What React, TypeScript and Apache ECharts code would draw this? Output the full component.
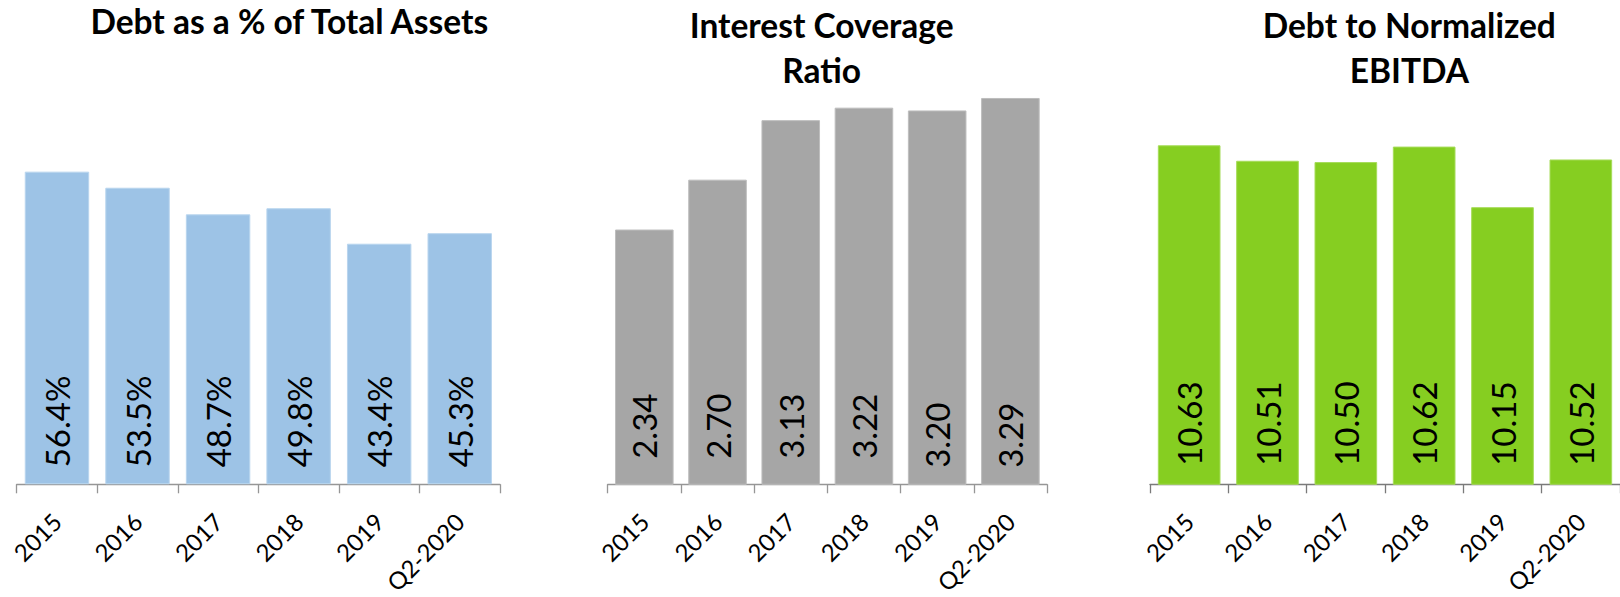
import React, { useEffect, useRef } from "react";
import * as echarts from "echarts";

const categories = ["2015", "2016", "2017", "2018", "2019", "Q2-2020"];
const debtPctAssets = [56.4, 53.5, 48.7, 49.8, 43.4, 45.3];
const interestCoverage = [2.34, 2.7, 3.13, 3.22, 3.2, 3.29];
const debtToEbitda = [10.63, 10.51, 10.5, 10.62, 10.15, 10.52];
const titles = ["Debt as a % of Total Assets", "Interest Coverage\nRatio", "Debt to Normalized\nEBITDA"];
const coverageLabelLift = [26, 26, 26, 26, 17, 17];

const FONT = "Lato, 'Noto Sans', sans-serif";

export default function App() {
  const ref = useRef<HTMLDivElement>(null);
  useEffect(() => {
    if (!ref.current) return;
    const chart = echarts.init(ref.current, undefined, { renderer: "svg" });

    const grids = [
      { left: 16.7, top: 151.7, width: 483.3, height: 332.6 },
      { left: 607.7, top: 68.9, width: 439.3, height: 425.4 },
      { left: 1150, top: 97.6, width: 474, height: 398 },
    ];
    const yRanges = [
      { min: 0, max: 60 },
      { min: 0.5, max: 3.5 },
      { min: 8, max: 11 },
    ];
    const axisColors = ["#969696", "#969696", "#7a7a7a"];
    const barColors = ["#9dc3e6", "#a6a6a6", "#86ce21"];
    const barBorders = ["#b9d5ee", "#bdbdbd", "#a6dc5a"];
    const seriesData = [debtPctAssets, interestCoverage, debtToEbitda];
    const labelFmt = [
      (v: number) => v.toFixed(1) + "%",
      (v: number) => v.toFixed(2),
      (v: number) => v.toFixed(2),
    ];
    const labelLift = [17, 17, 19];

    const baseLabel = (i: number) => ({
      show: true,
      position: "insideBottom",
      rotate: 90,
      align: "left",
      verticalAlign: "middle",
      distance: labelLift[i],
      color: "#000",
      fontFamily: FONT,
      fontSize: 33,
      formatter: (p: any) => labelFmt[i](p.value),
    });

    const option: any = {
      animation: false,
      grid: grids.map((g) => ({ ...g, containLabel: false })),
      xAxis: grids.map((_, i) => ({
        type: "category",
        gridIndex: i,
        data: categories,
        axisLine: { show: true, lineStyle: { color: axisColors[i], width: 1.3 } },
        axisTick: { show: true, length: 9, lineStyle: { color: axisColors[i], width: 1.3 } },
        axisLabel: {
          rotate: 45,
          margin: 33,
          interval: 0,
          color: "#000",
          fontFamily: FONT,
          fontSize: 24,
        },
        splitLine: { show: false },
      })),
      yAxis: grids.map((_, i) => ({
        type: "value",
        gridIndex: i,
        min: yRanges[i].min,
        max: yRanges[i].max,
        show: false,
        splitLine: { show: false },
      })),
      series: seriesData.map((d, i) => ({
        type: "bar",
        xAxisIndex: i,
        yAxisIndex: i,
        barCategoryGap: "20%",
        itemStyle: { color: barColors[i], borderColor: barBorders[i], borderWidth: 1 },
        label: baseLabel(i),
        data:
          i === 1
            ? d.map((v, j) => ({ value: v, label: { distance: coverageLabelLift[j] } }))
            : d,
      })),
      graphic: [
        { cx: 289.3, y: 20.5 },
        { cx: 821.7, y: 47 },
        { cx: 1409.3, y: 47 },
      ].map((t, i) => ({
        type: "text",
        x: t.cx,
        y: t.y,
        style: {
          text: titles[i],
          align: "center",
          verticalAlign: "middle",
          fill: "#000",
          fontFamily: FONT,
          fontWeight: "bold",
          fontSize: 33.5,
          lineHeight: 45,
        },
      })),
    };

    chart.setOption(option);
    return () => chart.dispose();
  }, []);

  return (
    <div
      ref={ref}
      style={{ position: "fixed", left: 0, top: 0, width: 1620, height: 597, background: "#fff" }}
    />
  );
}
